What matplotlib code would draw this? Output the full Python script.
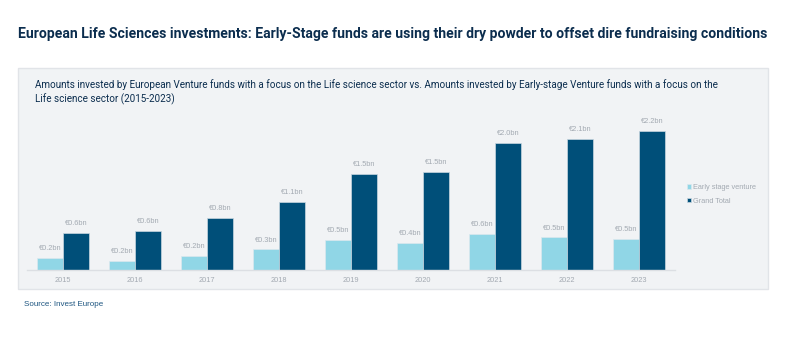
import matplotlib
matplotlib.use("Agg")
import numpy as np
import matplotlib.pyplot as plt
from matplotlib.patches import Rectangle

years = ["2015", "2016", "2017", "2018", "2019", "2020", "2021", "2022", "2023"]
early_stage = [0.19, 0.15, 0.22, 0.33, 0.48, 0.43, 0.57, 0.52, 0.49]
grand_total = [0.59, 0.62, 0.83, 1.08, 1.52, 1.56, 2.02, 2.08, 2.21]
early_labels = ["€0.2bn", "€0.2bn", "€0.2bn", "€0.3bn", "€0.5bn", "€0.4bn", "€0.6bn", "€0.5bn", "€0.5bn"]
grand_labels = ["€0.6bn", "€0.6bn", "€0.8bn", "€1.1bn", "€1.5bn", "€1.5bn", "€2.0bn", "€2.1bn", "€2.2bn"]

light = "#90d6e6"
dark = "#004f79"
navy = "#0b2d4e"
grey_txt = "#a3aab2"
sans = ['Liberation Sans', 'DejaVu Sans']

plt.rcParams['font.family'] = ['Roboto', 'DejaVu Sans']

fig = plt.figure(figsize=(8, 3.5), dpi=100)
fig.patch.set_facecolor("white")

# grey panel behind the chart
panel = Rectangle((18/800, 1-289/350), 750/800, 221/350, transform=fig.transFigure,
                  facecolor="#f1f3f5", edgecolor="#e1e4e8", linewidth=1, zorder=-5)
fig.patches.append(panel)

fig.text(18/800, 1-34/350, "European Life Sciences investments: Early-Stage funds are using their dry powder to offset dire fundraising conditions",
         fontsize=10.12, fontweight="bold", color=navy, va="center", ha="left")
fig.text(35/800, 1-92/350,
         "Amounts invested by European Venture funds with a focus on the Life science sector vs. Amounts invested by Early-stage Venture funds with a focus on the\nLife science sector (2015-2023)",
         fontsize=7.08, color=navy, va="center", ha="left", linespacing=1.3)
fig.text(24/800, 1-305/350, "Source: Invest Europe", fontsize=5.8, color="#1d5580",
         va="center", ha="left", family=sans)

ax = fig.add_axes([27/800, 1-270/350, 648/800, 164/350])
ax.set_facecolor("none")
ax.set_zorder(2)
x = np.arange(len(years))
w = 0.365
b1 = ax.bar(x - w/2, early_stage, w, color=light, edgecolor="#dbe8ee", linewidth=0.5, label="Early stage venture")
b2 = ax.bar(x + w/2, grand_total, w, color=dark, edgecolor="#c9d7e0", linewidth=0.5, label="Grand Total")

for xi, v, t in zip(x, early_stage, early_labels):
    ax.text(xi - w/2, v + 0.09, t, ha="center", va="bottom", fontsize=5.3, color=grey_txt, family=sans)
for xi, v, t in zip(x, grand_total, grand_labels):
    ax.text(xi + w/2, v + 0.09, t, ha="center", va="bottom", fontsize=5.3, color=grey_txt, family=sans)

ax.set_xlim(-0.5, 8.5)
ax.set_ylim(0, 2.6)
ax.set_xticks(x)
ax.set_xticklabels(years, fontsize=5.3, color=grey_txt, family=sans)
ax.tick_params(axis="x", length=0, pad=5)
ax.set_yticks([])
for s in ["top", "right", "left"]:
    ax.spines[s].set_visible(False)
ax.spines["bottom"].set_color("#dcdfe3")
ax.spines["bottom"].set_linewidth(1)

leg = fig.legend(handles=[b1, b2], loc="upper left", bbox_to_anchor=(684/800, 1-181/350),
                 frameon=False, prop={"family": sans, "size": 5.3}, handlelength=0.6, handleheight=0.6,
                 handletextpad=0.2, labelspacing=0.9, borderaxespad=0)
for t in leg.get_texts():
    t.set_color(grey_txt)

fig.savefig("out.png", dpi=100)
